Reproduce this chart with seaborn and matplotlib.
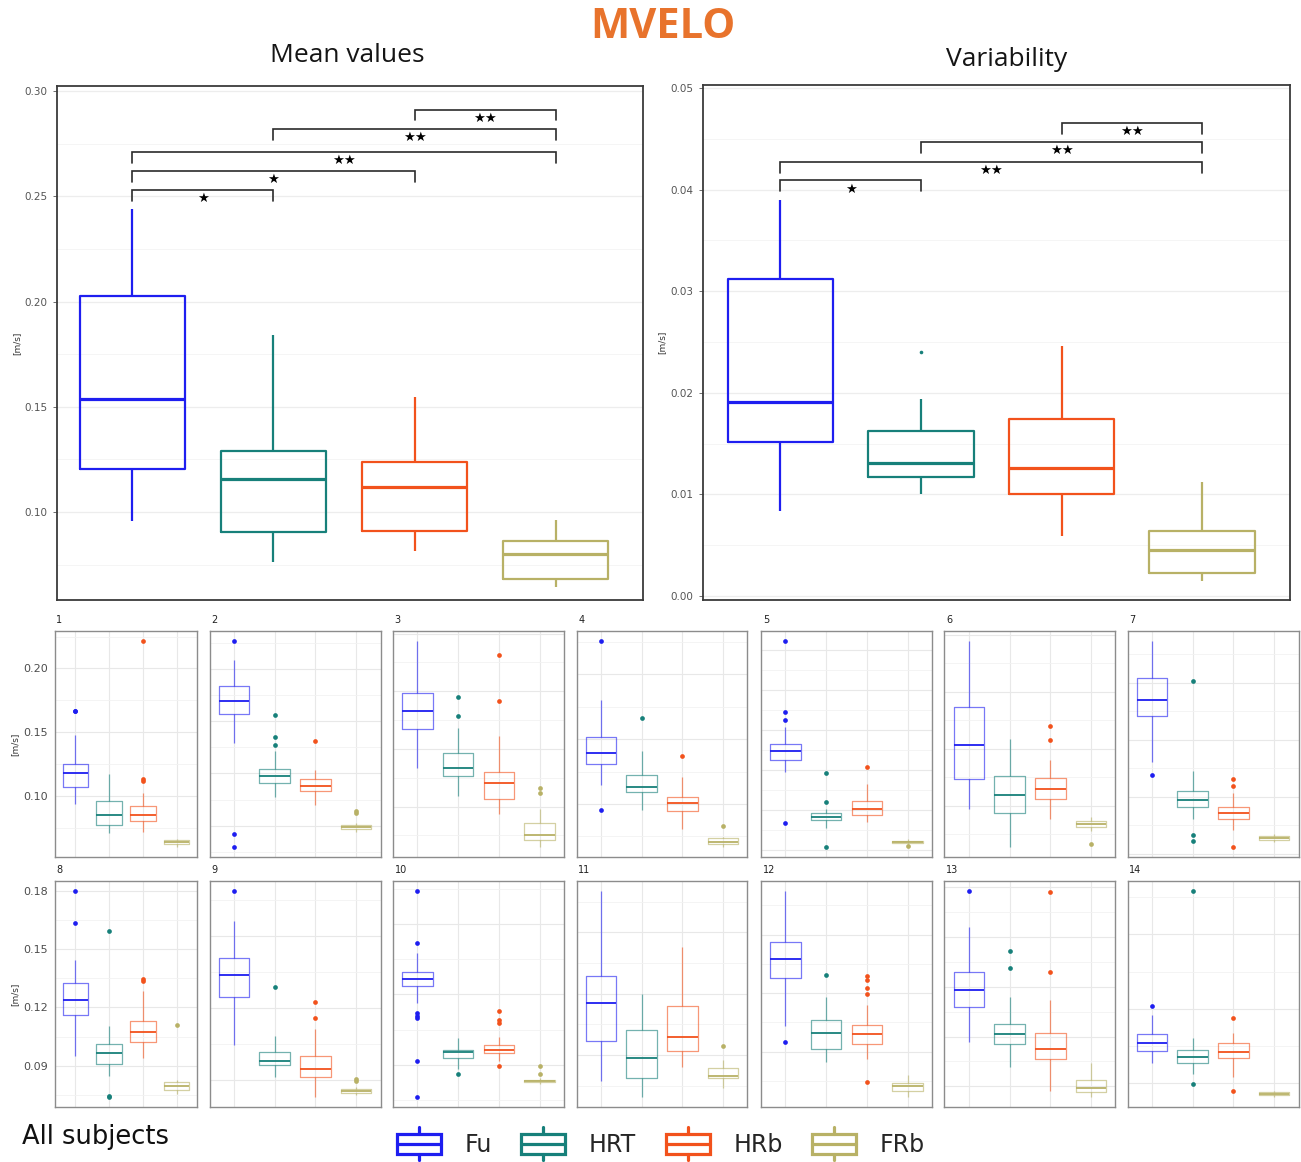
import matplotlib
matplotlib.use("Agg")
import numpy as np
import pandas as pd
import matplotlib.pyplot as plt
from matplotlib.ticker import MultipleLocator, FormatStrFormatter
from matplotlib.patches import Rectangle
from matplotlib.lines import Line2D
from matplotlib.legend_handler import HandlerBase
import seaborn as sns

# ---------------------------------------------------------------------------
# Data: five-number summaries (lower whisker, Q1, median, Q3, upper whisker)
# and outlying points, in m/s
# ---------------------------------------------------------------------------
GROUPS = ["Fu", "HRT", "HRb", "FRb"]
COLORS = ["#1E1EF0", "#17807A", "#F2521C", "#B8B166"]

mean_box = [(0.0955, 0.1203, 0.1539, 0.2026, 0.2439),
            (0.0762, 0.0907, 0.1157, 0.1288, 0.1839),
            (0.0817, 0.0910, 0.1118, 0.1237, 0.1548),
            (0.0642, 0.0682, 0.0799, 0.0862, 0.0960)]
mean_out = [[], [], [], []]

var_box = [(0.0084, 0.0152, 0.0191, 0.0312, 0.0390),
           (0.0100, 0.0117, 0.0131, 0.0162, 0.0194),
           (0.0059, 0.0100, 0.0126, 0.0174, 0.0246),
           (0.0015, 0.0023, 0.0045, 0.0064, 0.0112)]
var_out = [[], [0.0240], [], []]

# significance brackets: (group a, group b, label)
mean_sig = [(2, 3, "★★"), (1, 3, "★★"), (0, 3, "★★"), (0, 2, "★"), (0, 1, "★")]
mean_sig_y = [0.2912, 0.2820, 0.2711, 0.2620, 0.2530]
var_sig = [(2, 3, "★★"), (1, 3, "★★"), (0, 3, "★★"), (0, 1, "★")]
var_sig_y = [0.04658, 0.04468, 0.04275, 0.04092]

SUBJECTS = [str(i) for i in range(1, 15)]

fu_box = [(0.0934, 0.1073, 0.1178, 0.1252, 0.1480),
          (0.1291, 0.1566, 0.1696, 0.1835, 0.2085),
          (0.1336, 0.1672, 0.1825, 0.1983, 0.2434),
          (0.1150, 0.1309, 0.1395, 0.1513, 0.1801),
          (0.1475, 0.1628, 0.1736, 0.1822, 0.2037),
          (0.0974, 0.1233, 0.1529, 0.1866, 0.2442),
          (0.1302, 0.1706, 0.1852, 0.2041, 0.2363),
          (0.0950, 0.1161, 0.1239, 0.1324, 0.1445),
          (0.1046, 0.1246, 0.1336, 0.1407, 0.1563),
          (0.1165, 0.1234, 0.1264, 0.1296, 0.1377),
          (0.0773, 0.0969, 0.1153, 0.1288, 0.1702),
          (0.1031, 0.1278, 0.1375, 0.1461, 0.1722),
          (0.0870, 0.1078, 0.1180, 0.1288, 0.1560),
          (0.0981, 0.1030, 0.1062, 0.1098, 0.1175)]
fu_out = [[0.1664, 0.1668], [0.2263, 0.0424, 0.0300], [], [0.2253, 0.0952],
          [0.3107, 0.2227, 0.2128, 0.0839], [], [0.1189], [0.1800, 0.1637],
          [0.1688], [0.1639, 0.1417, 0.1122, 0.1109, 0.1098, 0.0917, 0.0764],
          [], [0.0951], [0.1774], [0.1212]]

hrt_box = [(0.0711, 0.0769, 0.0850, 0.0963, 0.1171),
           (0.0772, 0.0908, 0.0978, 0.1047, 0.1215),
           (0.1092, 0.1267, 0.1339, 0.1465, 0.1681),
           (0.0954, 0.1092, 0.1133, 0.1227, 0.1411),
           (0.0785, 0.0876, 0.0922, 0.0963, 0.1021),
           (0.0640, 0.0933, 0.1093, 0.1259, 0.1587),
           (0.0808, 0.0913, 0.0974, 0.1049, 0.1224),
           (0.0844, 0.0909, 0.0964, 0.1010, 0.1105),
           (0.0910, 0.0961, 0.0978, 0.1017, 0.1083),
           (0.0882, 0.0927, 0.0954, 0.0964, 0.1016),
           (0.0695, 0.0786, 0.0886, 0.1022, 0.1197),
           (0.0845, 0.0913, 0.0997, 0.1063, 0.1178),
           (0.0718, 0.0858, 0.0916, 0.0976, 0.1140),
           (0.0938, 0.0982, 0.1006, 0.1033, 0.1084)]
hrt_out = [[], [0.1560, 0.1345, 0.1275], [0.1948, 0.1787], [0.1661],
           [0.1467, 0.1105, 0.0546], [], [0.2012, 0.0663, 0.0608],
           [0.1596, 0.0739, 0.0742], [0.1287], [0.0862], [], [0.1295],
           [0.1416, 0.1314], [0.1673, 0.0897]]

hrb_box = [(0.0716, 0.0800, 0.0853, 0.0922, 0.1025),
           (0.0699, 0.0832, 0.0883, 0.0943, 0.1031),
           (0.0937, 0.1063, 0.1204, 0.1304, 0.1609),
           (0.0809, 0.0946, 0.1005, 0.1056, 0.1210),
           (0.0851, 0.0946, 0.1012, 0.1120, 0.1322),
           (0.0887, 0.1058, 0.1145, 0.1247, 0.1404),
           (0.0709, 0.0805, 0.0855, 0.0913, 0.1035),
           (0.0938, 0.1024, 0.1072, 0.1132, 0.1285),
           (0.0829, 0.0911, 0.0944, 0.1000, 0.1111),
           (0.0918, 0.0952, 0.0964, 0.0984, 0.1020),
           (0.0843, 0.0918, 0.0987, 0.1140, 0.1430),
           (0.0861, 0.0937, 0.0990, 0.1036, 0.1140),
           (0.0574, 0.0764, 0.0826, 0.0922, 0.1118),
           (0.0927, 0.1000, 0.1025, 0.1062, 0.1104)]
hrb_out = [[0.2213, 0.1135, 0.1115], [0.1307], [0.2313, 0.1917], [0.1367],
           [0.1537], [0.1701, 0.1578], [0.1151, 0.1096, 0.0561],
           [0.1345, 0.1338], [0.1224, 0.1158], [0.1131, 0.1090, 0.1077, 0.0896],
           [], [0.1289, 0.1266, 0.1224, 0.1193, 0.0746], [0.1770, 0.1288],
           [0.1162, 0.0871]]

frb_box = [(0.0601, 0.0622, 0.0640, 0.0653, 0.0664),
           (0.0436, 0.0468, 0.0487, 0.0509, 0.0531),
           (0.0652, 0.0707, 0.0756, 0.0856, 0.0980),
           (0.0671, 0.0691, 0.0707, 0.0742, 0.0745),
           (0.0586, 0.0593, 0.0603, 0.0616, 0.0637),
           (0.0779, 0.0814, 0.0840, 0.0863, 0.0904),
           (0.0602, 0.0616, 0.0637, 0.0654, 0.0674),
           (0.0754, 0.0775, 0.0794, 0.0814, 0.0826),
           (0.0837, 0.0844, 0.0853, 0.0861, 0.0869),
           (0.0819, 0.0825, 0.0831, 0.0836, 0.0843),
           (0.0737, 0.0785, 0.0798, 0.0835, 0.0874),
           (0.0668, 0.0699, 0.0721, 0.0736, 0.0780),
           (0.0538, 0.0566, 0.0590, 0.0638, 0.0738),
           (0.0846, 0.0852, 0.0857, 0.0865, 0.0869)]
frb_out = [[], [0.0642, 0.0620], [0.1158, 0.1121], [0.0834], [0.0550],
           [0.0663], [], [0.1108], [0.0904, 0.0896], [0.0896, 0.0860],
           [0.0943], [], [], []]

# horizontal grid step for the subject panels (row 1, row 2)
ROW_GRID_STEP = [0.025, 0.015]


# ---------------------------------------------------------------------------
# Helpers
# ---------------------------------------------------------------------------
def expand(stats, outliers, reps=40):
    """Observations whose quartiles, whiskers and outliers reproduce `stats`."""
    lo, q1, med, q3, hi = stats
    return [lo] + [q1] * reps + [med] * reps + [q3] * reps + [hi] + list(outliers)


def long_frame(boxes, outs):
    rows = []
    for g, st, ou in zip(GROUPS, boxes, outs):
        rows += [(g, v) for v in expand(st, ou)]
    return pd.DataFrame(rows, columns=["group", "value"])


def draw_boxes(ax, boxes, outs, lw, med_lw, alpha, flier_size):
    df = long_frame(boxes, outs)
    sns.boxplot(data=df, x="group", y="value", hue="group", order=GROUPS,
                hue_order=GROUPS, palette=COLORS, fill=False, width=0.75,
                dodge=False, showcaps=False, legend=False, ax=ax)
    for cont in ax.containers:
        for art in list(getattr(cont, "boxes", [])) + list(getattr(cont, "whiskers", [])):
            art.set_linewidth(lw)
            art.set_alpha(alpha)
        for art in getattr(cont, "medians", []):
            art.set_linewidth(med_lw)
            art.set_solid_capstyle("butt")
        for art in getattr(cont, "fliers", []):
            art.set_marker("o")
            art.set_markersize(flier_size)
            art.set_markerfacecolor(art.get_markeredgecolor())
            art.set_markeredgewidth(0)
    ax.set_xlabel("")
    ax.set_ylabel("")
    ax.tick_params(axis="x", bottom=False, labelbottom=False)


def style_frame(ax, color, lw):
    for sp in ax.spines.values():
        sp.set_visible(True)
        sp.set_color(color)
        sp.set_linewidth(lw)


def add_brackets(ax, pairs, heights, span):
    leg = 0.021 * span
    for (a, b, lab), y in zip(pairs, heights):
        ax.plot([a, a, b, b], [y - leg, y, y, y - leg], color="#2b2b2b",
                lw=1.2, solid_joinstyle="miter", zorder=5)
        ax.text((a + b) / 2, y - 0.017 * span, lab, ha="center", va="center",
                fontsize=9.5, color="black", family="DejaVu Sans", zorder=6)


class BoxGlyph(HandlerBase):
    def create_artists(self, legend, orig_handle, xdescent, ydescent,
                       width, height, fontsize, trans):
        c = orig_handle.get_color()
        lw = orig_handle.get_linewidth()
        x0, y0 = -xdescent, -ydescent
        rect = Rectangle((x0, y0), width, height, fill=False, edgecolor=c,
                         lw=lw, transform=trans)
        mid = Line2D([x0, x0 + width], [y0 + height / 2] * 2, color=c, lw=lw,
                     transform=trans)
        top = Line2D([x0 + width / 2] * 2, [y0 + height, y0 + height * 1.3],
                     color=c, lw=lw, transform=trans)
        bot = Line2D([x0 + width / 2] * 2, [y0 - height * 0.3, y0], color=c,
                     lw=lw, transform=trans)
        return [rect, mid, top, bot]


# ---------------------------------------------------------------------------
# Figure
# ---------------------------------------------------------------------------
sns.set_style("white")
plt.rcParams["font.family"] = ["DejaVu Sans"]

W, H = 1301, 1162
fig = plt.figure(figsize=(W / 100, H / 100), dpi=100)


def rect(x0, y0, x1, y1):
    return [x0 / W, 1 - y1 / H, (x1 - x0) / W, (y1 - y0) / H]


fig.text(663 / W, 1 - 28 / H, "MVELO", ha="center", va="center", fontsize=30,
         fontweight="bold", color="#E8732C", family="Open Sans")
fig.text(347 / W, 1 - 55 / H, "Mean values", ha="center", va="center",
         fontsize=19, color="#151515", family="Open Sans")
fig.text(1007 / W, 1 - 60 / H, "Variability", ha="center", va="center",
         fontsize=19, color="#151515", family="Open Sans")

# ---- overview panels ------------------------------------------------------
top_specs = [
    (rect(57, 86, 643, 600), mean_box, mean_out, (0.0582, 0.3024), (-0.535, 3.62),
     0.05, mean_sig, mean_sig_y, 2),
    (rect(703, 85, 1290, 600), var_box, var_out, (-0.0004, 0.0503), (-0.55, 3.625),
     0.01, var_sig, var_sig_y, 3),
]
for pos, boxes, outs, ylim, xlim, major, sig, sig_y, lpad in top_specs:
    ax = fig.add_axes(pos)
    draw_boxes(ax, boxes, outs, lw=1.6, med_lw=2.3, alpha=1.0, flier_size=2.6)
    ax.set_ylim(*ylim)
    ax.set_xlim(*xlim)
    ax.yaxis.set_major_locator(MultipleLocator(major))
    ax.yaxis.set_minor_locator(MultipleLocator(major / 2))
    ax.yaxis.set_major_formatter(FormatStrFormatter("%.2f"))
    ax.grid(True, axis="y", which="major", color="#EDEDED", lw=0.9)
    ax.grid(True, axis="y", which="minor", color="#F5F5F5", lw=0.7)
    ax.grid(False, axis="x")
    ax.set_axisbelow(True)
    ax.tick_params(axis="y", which="major", labelsize=7.5, labelcolor="#555555",
                   length=3, color="#555555", width=0.6, pad=4, left=True)
    ax.tick_params(axis="y", which="minor", length=0)
    ax.set_ylabel("[m/s]", fontsize=6.5, color="#333333", labelpad=lpad)
    style_frame(ax, "#3a3a3a", 1.3)
    add_brackets(ax, sig, sig_y, ylim[1] - ylim[0])

# ---- per-subject panels ---------------------------------------------------
col_x = [(55, 197), (209.5, 380.5), (393, 564), (576.5, 747.5), (761, 932),
         (944.5, 1115.5), (1127.5, 1298.5)]
row_y = [(631, 857), (881, 1107)]

for i, subj in enumerate(SUBJECTS):
    r, c = divmod(i, 7)
    ax = fig.add_axes(rect(col_x[c][0], row_y[r][0], col_x[c][1], row_y[r][1]))
    boxes = [fu_box[i], hrt_box[i], hrb_box[i], frb_box[i]]
    outs = [fu_out[i], hrt_out[i], hrb_out[i], frb_out[i]]
    draw_boxes(ax, boxes, outs, lw=0.9, med_lw=1.3, alpha=0.6, flier_size=3.4)

    vals = [v for st, ou in zip(boxes, outs) for v in list(st) + list(ou)]
    lo, hi = min(vals), max(vals)
    pad = 0.05 * (hi - lo)
    ax.set_ylim(lo - pad, hi + pad)
    ax.set_xlim(-0.6, 3.6)

    step = ROW_GRID_STEP[r]
    ax.yaxis.set_major_locator(MultipleLocator(2 * step))
    ax.yaxis.set_minor_locator(MultipleLocator(step))
    ax.yaxis.set_major_formatter(FormatStrFormatter("%.2f"))
    ax.set_xticks(range(4))
    ax.grid(True, axis="y", which="major", color="#E8E8E8", lw=0.8)
    ax.grid(True, axis="y", which="minor", color="#F2F2F2", lw=0.6)
    ax.grid(True, axis="x", which="major", color="#E8E8E8", lw=0.8)
    ax.set_axisbelow(True)
    ax.tick_params(axis="y", which="minor", length=0)
    if c == 0:
        ax.tick_params(axis="y", which="major", labelsize=8, labelcolor="#4D4D4D",
                       length=0, pad=5, left=True)
        ax.set_ylabel("[m/s]", fontsize=6.5, color="#333333", labelpad=3)
    else:
        ax.tick_params(axis="y", which="major", left=False, labelleft=False)
    style_frame(ax, "#8c8c8c", 1.0)
    ax.text(0.01, 1.025, subj, transform=ax.transAxes, ha="left", va="bottom",
            fontsize=7, color="#222222")

# ---- legend ---------------------------------------------------------------
fig.text(22 / W, 1 - 1137 / H, "All subjects", ha="left", va="center",
         fontsize=18.5, color="#111111")
handles = [Line2D([], [], color=col, lw=2.3) for col in COLORS]
fig.legend(handles=handles, labels=GROUPS, handler_map={Line2D: BoxGlyph()},
           ncol=4, loc="center left", bbox_to_anchor=(397 / W, 1 - 1145 / H),
           frameon=False, fontsize=17, handlelength=1.86, handleheight=0.97,
           handletextpad=1.0, columnspacing=1.25, borderpad=0, borderaxespad=0)

fig.savefig("out.png", dpi=100, facecolor="white")
